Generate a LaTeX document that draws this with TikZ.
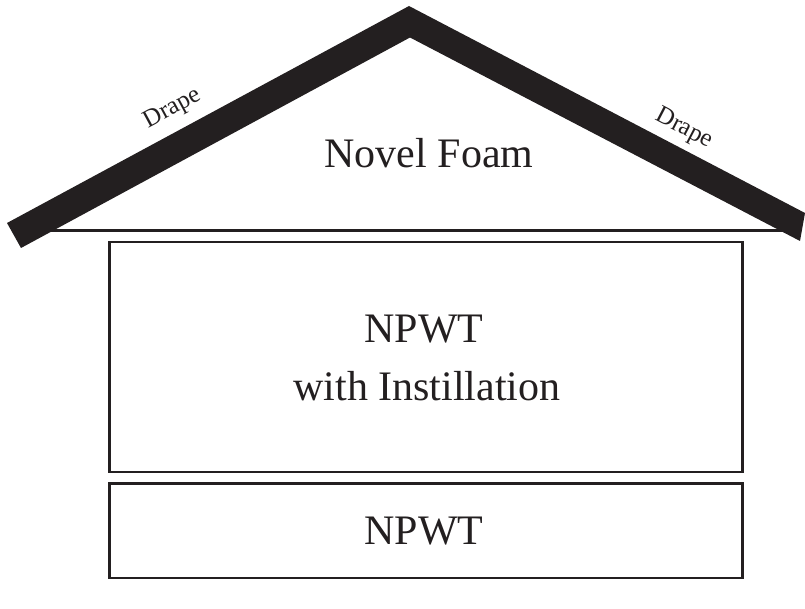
\documentclass[tikz,border=0pt]{standalone}
\usepackage{fontspec}
\setmainfont{Liberation Serif}
\definecolor{ink}{HTML}{231F20}
\begin{document}
\begin{tikzpicture}[x=1pt,y=-1pt,
  boxstyle/.style={draw=ink, line width=2.6pt, inner sep=0pt, outer sep=0pt},
  big/.style={font=\fontsize{42}{57}\selectfont, text=ink, inner sep=0pt, anchor=base},
  drapelabel/.style={font=\fontsize{25}{28}\selectfont, text=ink, inner sep=0pt}]
\useasboundingbox (0,0) rectangle (805,609);
% eave line
\coordinate (eaveL) at (50,230.3);
\coordinate (eaveR) at (785,230.3);
\draw[ink, line width=2.6pt] (eaveL) -- (eaveR);
% roof band (drape)
\coordinate (lo) at (7,223);
\coordinate (apexO) at (409,6);
\coordinate (ro) at (805,213);
\coordinate (ri) at (800,241);
\coordinate (apexI) at (410,37.5);
\coordinate (li) at (21,248);
\fill[ink] (lo) -- (apexO) -- (ro) -- (ri) -- (apexI) -- (li) -- cycle;
% boxes
\node[boxstyle, minimum width=633pt, minimum height=230pt] (box1) at (426.2,357) {};
\node[boxstyle, minimum width=633pt, minimum height=94.3pt] (box2) at (426.2,530.85) {};
% labels
\node[big] (foam) at (429,167.3) {Novel Foam};
\node[big] (npwtA) at (424,342.7) {NPWT};
\node[big] (instill) at (427,400) {with Instillation};
\node[big] (npwtB) at (424,544.5) {NPWT};
\node[drapelabel, rotate=28.4] (drapeL) at (173,109) {Drape};
\node[drapelabel, rotate=-27.5] (drapeR) at (684,129) {Drape};
\end{tikzpicture}
\end{document}
